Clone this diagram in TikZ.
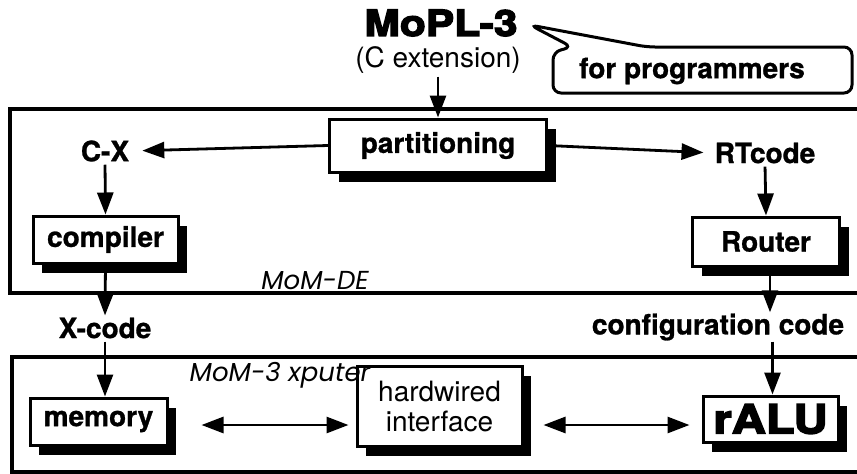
\documentclass[tikz,border=0pt]{standalone}
\usepackage{fontspec}
\setmainfont{TeX Gyre Heros}[BoldFeatures={FakeBold=1}]
\newfontfamily\geo{Poppins}
\newfontfamily\heavy{TeX Gyre Heros}[BoldFeatures={FakeBold=4,FakeStretch=1.18}]
\usetikzlibrary{arrows.meta,shadows,calc}
\tikzset{
  box/.style={draw,line width=3pt,fill=white,inner sep=0pt,
    drop shadow={shadow xshift=9pt,shadow yshift=-10pt,fill=black,opacity=1}},
  lbl/.style={font=\fontsize{28}{30}\selectfont\bfseries,inner sep=1pt},
  reg/.style={font=\fontsize{28}{30}\selectfont,inner sep=1pt},
  ital/.style={font=\fontsize{26}{28}\selectfont\geo\itshape,inner sep=0pt},
  arr/.style={line width=2.8pt,-{Triangle[length=22pt,width=16pt]}},
  darr/.style={line width=2.8pt,{Triangle[length=22pt,width=16pt]}-{Triangle[length=22pt,width=16pt]}},
  frame/.style={line width=3.5pt},
}
\begin{document}
\begin{tikzpicture}[x=1pt,y=-1pt]
\useasboundingbox (0,0) rectangle (857,474);
% frames
\draw[frame] (860,109) -| (10,293) -- (860,293);
\draw[frame] (860,357) -| (12,472) -- (860,472);
% title
\node[inner sep=0pt,font=\fontsize{36}{38}\selectfont\heavy\bfseries] (mopl) at (441,23) {MoPL-3};
\node[reg] (cext) at (438,60) {(C extension)};
% callout
\draw[line width=3pt,rounded corners=8pt,fill=white] (530,25) -- (647,47) -- (852,47) -- (852,93) -- (553,93) -- (553,52) -- (572,47) -- cycle;
\node[lbl] (prog) at (692,71) {for programmers};
% boxes
\node[box,minimum width=217pt,minimum height=53pt,lbl] (part) at (438,145.5) {partitioning};
\node[box,minimum width=145pt,minimum height=47pt,lbl] (comp) at (105.5,239.5) {compiler};
\node[box,minimum width=147pt,minimum height=49pt,lbl] (router) at (766,241.5) {Router};
\node[box,minimum width=137pt,minimum height=47pt,lbl] (mem) at (98.5,421.5) {memory};
\node[box,minimum width=165pt,minimum height=80pt,reg,align=center] (hw) at (439.5,406) {hardwired\\interface};
\node[box,minimum width=135pt,minimum height=46pt,inner sep=0pt,font=\fontsize{40}{42}\selectfont\heavy\bfseries] (ralu) at (770.5,419) {rALU};
% labels
\node[lbl] (cx) at (105,151) {C-X};
\node[lbl] (rt) at (765,153) {RTcode};
\node[lbl] (xcode) at (105,328) {X-code};
\node[lbl] (config) at (718,327) {configuration code};
\node[ital] (momde) at (315,281) {MoM-DE};
\node[ital] (mom3) at (280,375) {MoM-3 xputer};
% arrows
\draw[arr,shorten <=2pt] (cext.south) -- (part.north);
\draw[arr,shorten >=12pt] (part.west) -- (cx.east);
\draw[arr,shorten >=10pt] (part.east) -- (rt.west);
\draw[arr,shorten <=2pt] (cx.south) -- (comp.north);
\draw[arr,shorten >=1pt] (comp.south) -- (xcode.north);
\draw[arr,shorten <=2pt] (xcode.south) -- (mem.north -| xcode.south);
\draw[arr,shorten <=2pt] (rt.south) -- (router.north);
\draw[arr] ([xshift=4pt]router.south) -- ([xshift=4pt]router.south |- config.north);
\draw[arr] ([xshift=2pt]ralu.north |- config.south) -- ([xshift=2pt]ralu.north);
\draw[darr] ([shift={(33,3.5)}]mem.east) -- ([shift={(-7,3.5)}]mem.east -| hw.west);
\draw[darr] ([shift={(20,6)}]ralu.west -| hw.east) -- ([shift={(-12,6)}]ralu.west);
\end{tikzpicture}
\end{document}
